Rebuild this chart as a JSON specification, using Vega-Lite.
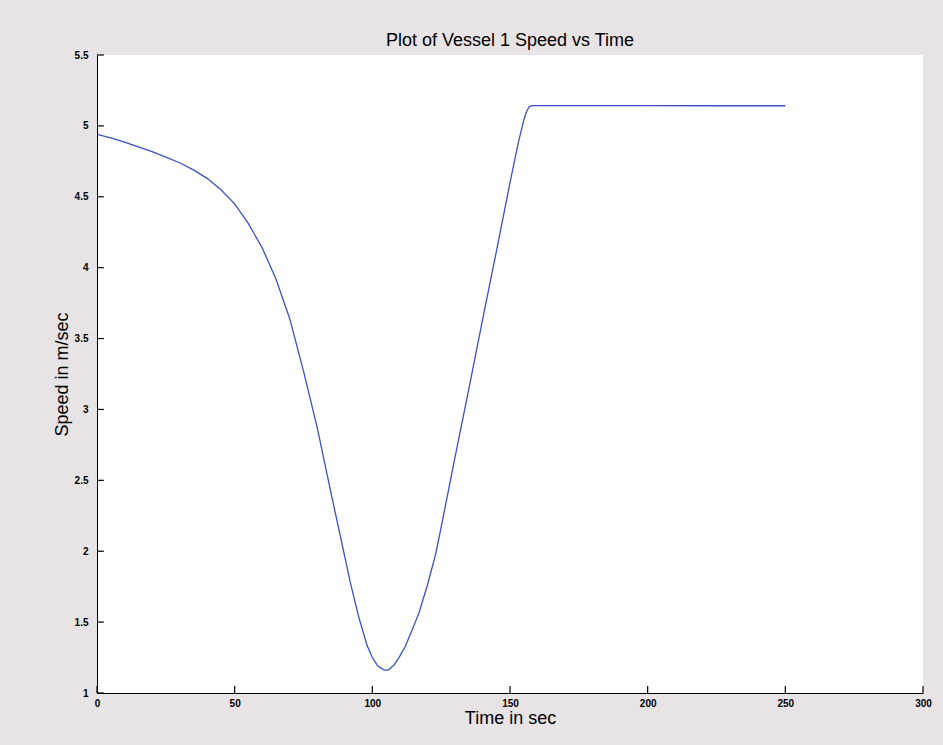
{
  "$schema": "https://vega.github.io/schema/vega-lite/v6.json",
  "autosize": "none",
  "width": 826,
  "height": 638,
  "padding": {"left": 97, "top": 55, "right": 20, "bottom": 52},
  "background": "#e8e4e6",
  "view": {"fill": "white", "stroke": null},
  "title": {
    "text": "Plot of Vessel 1 Speed vs Time",
    "font": "Liberation Sans",
    "fontSize": 18,
    "fontWeight": "normal",
    "color": "black",
    "offset": 0
  },
  "layer": [
    {
      "data": {"values": [{"tick": 0}, {"tick": 50}, {"tick": 100}, {"tick": 150}, {"tick": 200}, {"tick": 250}, {"tick": 300}]},
      "mark": {"type": "rule", "color": "black", "strokeWidth": 1.2},
      "encoding": {
        "x": {"field": "tick", "type": "quantitative", "scale": {"domain": [0, 300], "nice": false}},
        "y": {"datum": 1, "type": "quantitative"},
        "y2": {"datum": 1.05}
      }
    },
    {
      "data": {"values": [{"tick": 1}, {"tick": 1.5}, {"tick": 2}, {"tick": 2.5}, {"tick": 3}, {"tick": 3.5}, {"tick": 4}, {"tick": 4.5}, {"tick": 5}, {"tick": 5.5}]},
      "mark": {"type": "rule", "color": "black", "strokeWidth": 1.2},
      "encoding": {
        "y": {"field": "tick", "type": "quantitative"},
        "x": {"datum": 0, "type": "quantitative"},
        "x2": {"datum": 2.5}
      }
    },
    {
      "data": {
        "values": [
          {"t": 0, "v": 4.94}, {"t": 5, "v": 4.915}, {"t": 10, "v": 4.885}, {"t": 15, "v": 4.852},
          {"t": 20, "v": 4.818}, {"t": 25, "v": 4.78}, {"t": 30, "v": 4.74}, {"t": 35, "v": 4.69},
          {"t": 40, "v": 4.63}, {"t": 45, "v": 4.55}, {"t": 50, "v": 4.45}, {"t": 55, "v": 4.31},
          {"t": 60, "v": 4.14}, {"t": 65, "v": 3.92}, {"t": 70, "v": 3.64}, {"t": 75, "v": 3.27},
          {"t": 80, "v": 2.87}, {"t": 85, "v": 2.41}, {"t": 90, "v": 1.96}, {"t": 92, "v": 1.78},
          {"t": 95, "v": 1.54}, {"t": 98, "v": 1.34}, {"t": 100, "v": 1.25}, {"t": 102, "v": 1.19},
          {"t": 104, "v": 1.165}, {"t": 105, "v": 1.16}, {"t": 106, "v": 1.165}, {"t": 108, "v": 1.2},
          {"t": 110, "v": 1.26}, {"t": 112, "v": 1.33}, {"t": 115, "v": 1.47}, {"t": 117, "v": 1.57},
          {"t": 120, "v": 1.76}, {"t": 123, "v": 1.98}, {"t": 125, "v": 2.17}, {"t": 130, "v": 2.66},
          {"t": 135, "v": 3.14}, {"t": 140, "v": 3.63}, {"t": 145, "v": 4.11}, {"t": 150, "v": 4.6},
          {"t": 153, "v": 4.88}, {"t": 155, "v": 5.04}, {"t": 156, "v": 5.1}, {"t": 157, "v": 5.135},
          {"t": 158, "v": 5.143}, {"t": 180, "v": 5.143}, {"t": 200, "v": 5.143}, {"t": 225, "v": 5.142},
          {"t": 250, "v": 5.142}
        ]
      },
      "mark": {"type": "line", "color": "#3b4fc9", "strokeWidth": 1.3, "clip": true},
      "encoding": {
        "x": {
          "field": "t",
          "type": "quantitative",
          "scale": {"domain": [0, 300], "nice": false},
          "axis": {
            "title": "Time in sec",
            "values": [0, 50, 100, 150, 200, 250, 300],
            "grid": false,
            "ticks": false,
            "zindex": 1,
            "domainColor": "black",
            "labelPadding": 5,
            "labelFlush": false,
            "labelOverlap": false,
            "labelFont": "Liberation Sans",
            "labelFontSize": 10,
            "labelFontWeight": "bold",
            "labelColor": "black",
            "titleFont": "Liberation Sans",
            "titleFontSize": 18,
            "titleFontWeight": "normal",
            "titleColor": "black",
            "titlePadding": 1
          }
        },
        "y": {
          "field": "v",
          "type": "quantitative",
          "scale": {"domain": [1, 5.5], "nice": false, "zero": false},
          "axis": {
            "title": "Speed in m/sec",
            "values": [1, 1.5, 2, 2.5, 3, 3.5, 4, 4.5, 5, 5.5],
            "format": ".1~f",
            "grid": false,
            "ticks": false,
            "zindex": 1,
            "domainColor": "black",
            "labelPadding": 9,
            "labelFlush": false,
            "labelOverlap": false,
            "labelFont": "Liberation Sans",
            "labelFontSize": 10,
            "labelFontWeight": "bold",
            "labelColor": "black",
            "titleFont": "Liberation Sans",
            "titleFontSize": 18,
            "titleFontWeight": "normal",
            "titleColor": "black",
            "titlePadding": 3
          }
        }
      }
    }
  ]
}
